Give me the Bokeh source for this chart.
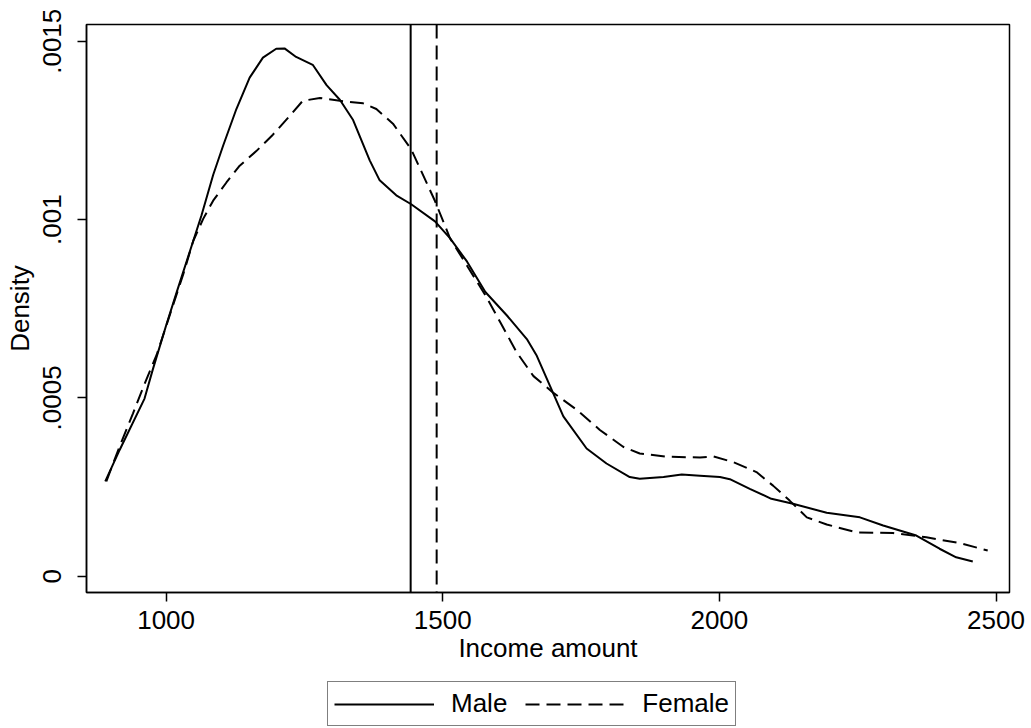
from bokeh.plotting import figure
from bokeh.layouts import column
from bokeh.models import Span, Legend, LegendItem, FixedTicker, Range1d
from bokeh.embed import file_html
from bokeh.resources import INLINE

# ---- data ----
male_x = [890, 916, 961, 976, 1000, 1019, 1049, 1064, 1085, 1103, 1127, 1151, 1175, 1199,
          1214, 1235, 1265, 1290, 1314, 1338, 1368, 1386, 1416, 1443, 1486, 1513, 1544,
          1577, 1616, 1652, 1670, 1694, 1718, 1760, 1796, 1838, 1856, 1899, 1932, 1965,
          2001, 2019, 2055, 2094, 2133, 2194, 2254, 2296, 2356, 2398, 2428, 2458]
male_y = [0.000266, 0.000354, 0.000498, 0.000580, 0.000703, 0.000796, 0.000940, 0.001012,
          0.001125, 0.001207, 0.001310, 0.001398, 0.001454, 0.001479, 0.001480, 0.001456,
          0.001434, 0.001377, 0.001336, 0.001279, 0.001166, 0.001110, 0.001068, 0.001043,
          0.000995, 0.000948, 0.000882, 0.000797, 0.000731, 0.000665, 0.000618, 0.000533,
          0.000448, 0.000358, 0.000316, 0.000278, 0.000273, 0.000278, 0.000285, 0.000282,
          0.000278, 0.000272, 0.000245, 0.000217, 0.000203, 0.000178, 0.000165, 0.000142,
          0.000114, 0.000077, 0.000053, 0.000041]

female_x = [892, 916, 940, 961, 983, 1007, 1031, 1049, 1067, 1085, 1109, 1133, 1163, 1193,
            1223, 1247, 1278, 1314, 1356, 1380, 1410, 1443, 1486, 1513, 1577, 1604, 1634,
            1664, 1700, 1742, 1784, 1826, 1856, 1905, 1965, 1989, 2025, 2067, 2097, 2127,
            2158, 2194, 2248, 2314, 2374, 2434, 2485]
female_y = [0.000266, 0.000364, 0.000456, 0.000539, 0.000621, 0.000734, 0.000847, 0.000940,
            0.001002, 0.001053, 0.001104, 0.001151, 0.001192, 0.001238, 0.001290, 0.001333,
            0.001341, 0.001333, 0.001326, 0.001310, 0.001269, 0.001197, 0.001052, 0.000948,
            0.000788, 0.000712, 0.000627, 0.000561, 0.000514, 0.000467, 0.000410, 0.000363,
            0.000344, 0.000335, 0.000333, 0.000336, 0.000320, 0.000292, 0.000254, 0.000212,
            0.000165, 0.000145, 0.000123, 0.000121, 0.000109, 0.000093, 0.000072]

male_mean = 1442
female_mean = 1489

x_ticks = [1000, 1500, 2000, 2500]
y_ticks = [0, 0.0005, 0.001, 0.0015]
y_tick_labels = ["0", ".0005", ".001", ".0015"]
series_labels = ["Male", "Female"]

FONT = "Liberation Sans"
FS = "26px"
DASH = "14 7"

p = figure(frame_width=923, frame_height=568,
           x_range=Range1d(856.1, 2524.4), y_range=Range1d(-0.0000457, 0.001547),
           output_backend="svg", toolbar_location=None,
           min_border_left=86, min_border_top=24, min_border_right=20, min_border_bottom=80,
           background_fill_color="white", border_fill_color="white")

p.xgrid.visible = False
p.ygrid.visible = False
p.outline_line_color = "black"
p.outline_line_width = 1.5
p.outline_line_alpha = 1.0

p.line(male_x, male_y, line_color="black", line_width=2)
p.line(female_x, female_y, line_color="black", line_width=2, line_dash=DASH)

p.add_layout(Span(location=male_mean, dimension="height", line_color="black", line_width=2))
p.add_layout(Span(location=female_mean, dimension="height", line_color="black", line_width=2,
                  line_dash=DASH))

for ax in (p.xaxis[0], p.yaxis[0]):
    ax.axis_line_width = 1.5
    ax.axis_line_color = "black"
    ax.major_tick_line_width = 1.5
    ax.major_tick_line_color = "black"
    ax.major_tick_out = 9
    ax.major_tick_in = 0
    ax.minor_tick_line_color = None
    ax.major_label_text_font = FONT
    ax.major_label_text_font_size = FS
    ax.major_label_text_color = "black"
    ax.axis_label_text_font = FONT
    ax.axis_label_text_font_size = FS
    ax.axis_label_text_font_style = "normal"
    ax.axis_label_text_color = "black"

p.xaxis[0].ticker = FixedTicker(ticks=x_ticks)
p.xaxis[0].axis_label = "Income amount"
p.xaxis[0].major_label_standoff = 9
p.xaxis[0].axis_label_standoff = 1

p.yaxis[0].ticker = FixedTicker(ticks=y_ticks)
p.yaxis[0].major_label_overrides = {t: l for t, l in zip(y_ticks, y_tick_labels)}
p.yaxis[0].major_label_orientation = "vertical"
p.yaxis[0].axis_label = "Density"
p.yaxis[0].major_label_standoff = 16
p.yaxis[0].axis_label_standoff = 6

# ---- legend strip below the plot (its key lines fall outside its own view) ----
lg = figure(width=1029, height=55, x_range=Range1d(0, 1), y_range=Range1d(0, 1),
            output_backend="svg", toolbar_location=None,
            x_axis_location=None, y_axis_location=None,
            min_border_left=0, min_border_right=0, min_border_top=0, min_border_bottom=0,
            background_fill_color="white", border_fill_color="white")
lg.xgrid.visible = False
lg.ygrid.visible = False
lg.outline_line_color = None
k1 = lg.line(male_x, male_y, line_color="black", line_width=2)
k2 = lg.line(female_x, female_y, line_color="black", line_width=2, line_dash=DASH)

legend = Legend(items=[LegendItem(label=series_labels[0], renderers=[k1]),
                       LegendItem(label=series_labels[1], renderers=[k2])],
                orientation="horizontal", location=(241, 1),
                glyph_width=100, glyph_height=20, label_standoff=17, spacing=18,
                padding=6, margin=0,
                label_text_font=FONT, label_text_font_size=FS, label_text_color="black",
                border_line_color="black", border_line_width=1.5,
                background_fill_color="white")
lg.add_layout(legend)

layout = column(p, lg, spacing=0)
open("out.html", "w").write(file_html(layout, INLINE))
